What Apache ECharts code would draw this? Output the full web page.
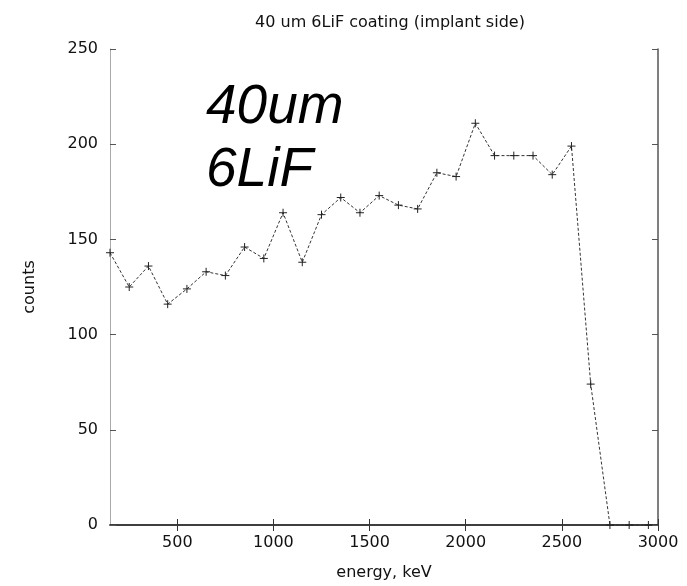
<!DOCTYPE html>
<html>
<head>
<meta charset="utf-8">
<script src="https://cdn.jsdelivr.net/npm/echarts@6/dist/echarts.min.js"></script>
<style>
  html, body { margin: 0; padding: 0; background: #fff; }
  #chart { width: 687px; height: 586px; }
</style>
</head>
<body>
<div id="chart"></div>
<script>
// energy bin centres (keV) and counts
const energies = [150, 250, 350, 450, 550, 650, 750, 850, 950, 1050,
  1150, 1250, 1350, 1450, 1550, 1650, 1750, 1850, 1950, 2050,
  2150, 2250, 2350, 2450, 2550, 2650, 2750, 2850, 2950];
const counts = [143, 125, 136, 116, 124, 133, 131, 146, 140, 164,
  138, 163, 172, 164, 173, 168, 166, 185, 183, 211,
  194, 194, 194, 184, 199, 74, 0, 0, 0];

const xTicks = [500, 1000, 1500, 2000, 2500, 3000];

const chart = echarts.init(document.getElementById('chart'));

const font = 'DejaVu Sans';
const plus = 'path://M0,5L10,5M5,0L5,10';
const plain = v => String(v);

const option = {
  animation: false,
  title: {
    text: '40 um 6LiF coating (implant side)',
    left: 385,
    top: 10,
    textAlign: 'center',
    textStyle: { fontFamily: font, fontSize: 16, fontWeight: 'normal', color: '#111' },
  },
  grid: { left: 110, right: 29, top: 49, bottom: 59 },
  graphic: [
    {
      type: 'text',
      left: 206,
      top: 76,
      style: {
        text: '40um\n6LiF',
        font: 'italic 55px Liberation Sans',
        lineHeight: 63,
        fill: '#000',
      },
    },
  ],
  xAxis: [
    {
      type: 'value',
      min: 150,
      max: 3000,
      name: 'energy, keV',
      nameLocation: 'middle',
      nameGap: 40,
      nameTextStyle: { fontFamily: font, fontSize: 16, color: '#111' },
      axisLine: { show: true, lineStyle: { color: '#333', width: 1.5 } },
      axisTick: { show: true, inside: true, length: 6, customValues: xTicks, lineStyle: { color: '#333' } },
      axisLabel: { customValues: xTicks, formatter: plain, margin: 10, fontFamily: font, fontSize: 16, color: '#111' },
      splitLine: { show: false },
    },
    {
      type: 'value',
      position: 'top',
      min: 150,
      max: 3000,
      axisLine: { show: true, lineStyle: { color: '#333', width: 1.5 } },
      axisTick: { show: true, inside: true, length: 6, customValues: xTicks, lineStyle: { color: '#333' } },
      axisLabel: { show: false },
      splitLine: { show: false },
    },
  ],
  yAxis: [
    {
      type: 'value',
      min: 0,
      max: 250,
      interval: 50,
      name: 'counts',
      nameLocation: 'middle',
      nameGap: 72,
      nameTextStyle: { fontFamily: font, fontSize: 16, color: '#111' },
      axisLine: { show: true, lineStyle: { color: '#aaa', width: 1 } },
      axisTick: { show: true, inside: true, length: 6, lineStyle: { color: '#555' } },
      axisLabel: { formatter: plain, margin: 12, fontFamily: font, fontSize: 16, color: '#111' },
      splitLine: { show: false },
    },
    {
      type: 'value',
      position: 'right',
      min: 0,
      max: 250,
      interval: 50,
      axisLine: { show: true, lineStyle: { color: '#555', width: 1.5 } },
      axisTick: { show: true, inside: true, length: 6, lineStyle: { color: '#555' } },
      axisLabel: { show: false },
      splitLine: { show: false },
    },
  ],
  series: [
    {
      type: 'line',
      data: energies.map((e, i) => [e, counts[i]]),
      symbol: plus,
      symbolSize: 8,
      showAllSymbol: true,
      lineStyle: { color: '#333', width: 1, type: [3, 2] },
      itemStyle: { color: 'rgba(0,0,0,0)', borderColor: '#222', borderWidth: 1 },
      clip: false,
    },
  ],
};

chart.setOption(option);
</script>
</body>
</html>
